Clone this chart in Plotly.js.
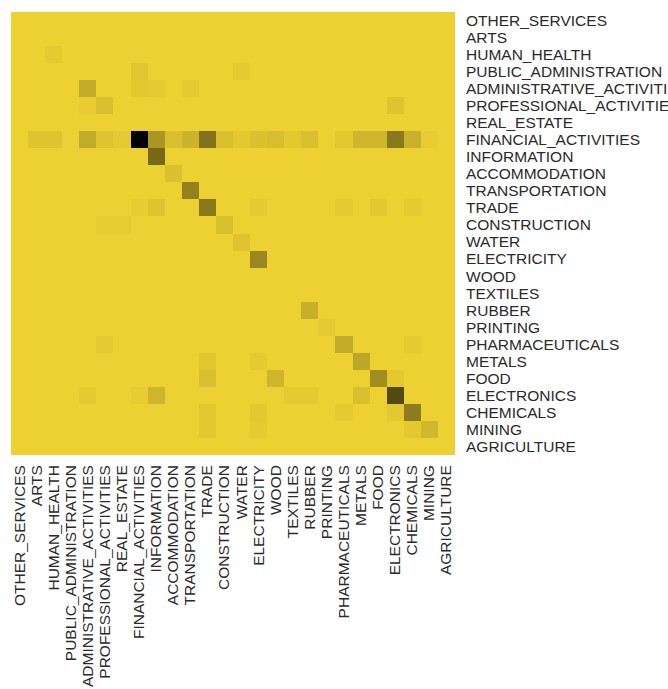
<!DOCTYPE html>
<html>
<head>
<meta charset="utf-8">
<script src="https://cdn.plot.ly/plotly-3.0.1.min.js"></script>
<style>html,body{margin:0;padding:0;background:#fff;}#chart{width:668px;height:689px;}</style>
</head>
<body>
<div id="chart"></div>
<script>
const sectors = ["OTHER_SERVICES","ARTS","HUMAN_HEALTH","PUBLIC_ADMINISTRATION","ADMINISTRATIVE_ACTIVITIES","PROFESSIONAL_ACTIVITIES","REAL_ESTATE","FINANCIAL_ACTIVITIES","INFORMATION","ACCOMMODATION","TRANSPORTATION","TRADE","CONSTRUCTION","WATER","ELECTRICITY","WOOD","TEXTILES","RUBBER","PRINTING","PHARMACEUTICALS","METALS","FOOD","ELECTRONICS","CHEMICALS","MINING","AGRICULTURE"];

// rows follow sectors (top to bottom), columns follow sectors (left to right)
const values = [
  [0,0,0,0,0,0,0,0,0,0,0,0,0,0,0,0,0,0,0,0,0,0,0,0,0,0], // OTHER_SERVICES
  [0,0,0,0,0,0,0,0,0,0,0,0,0,0,0,0,0,0,0,0,0,0,0,0,0,0], // ARTS
  [0,0,3,0,0,0,0,0,0,0,0,0,0,0,0,0,0,0,0,0,0,0,0,0,0,0], // HUMAN_HEALTH
  [0,0,0,0,0,0,0,5,0,0,0,0,0,3,0,0,0,0,0,0,0,0,0,0,0,0], // PUBLIC_ADMINISTRATION
  [0,0,0,0,18,0,0,4,3,0,3,0,0,0,0,0,0,0,0,0,0,0,0,0,0,0], // ADMINISTRATIVE_ACTIVITIES
  [0,0,0,0,2,8,0,0,0,0,0,0,0,0,0,0,0,0,0,0,0,0,6,0,0,0], // PROFESSIONAL_ACTIVITIES
  [0,0,0,0,0,0,0,0,0,0,0,0,0,0,0,0,0,0,0,0,0,0,0,0,0,0], // REAL_ESTATE
  [0,6,6,0,18,6,3,100,28,8,14,45,8,4,7,9,4,8,0,4,13,13,42,15,2,0], // FINANCIAL_ACTIVITIES
  [0,0,0,0,0,0,0,0,50,0,0,0,0,0,0,0,0,0,0,0,0,0,0,0,0,0], // INFORMATION
  [0,0,0,0,0,0,0,0,0,7,0,0,0,0,0,0,0,0,0,0,0,0,0,0,0,0], // ACCOMMODATION
  [0,0,0,0,0,0,0,0,0,0,38,0,0,0,0,0,0,0,0,0,0,0,0,0,0,0], // TRANSPORTATION
  [0,0,0,0,0,0,0,2,6,0,0,42,0,0,3,0,0,0,0,3,0,4,0,3,0,0], // TRADE
  [0,0,0,0,0,2,2,0,0,0,0,0,8,0,0,0,0,0,0,0,0,0,0,0,0,0], // CONSTRUCTION
  [0,0,0,0,0,0,0,0,0,0,0,0,0,6,0,0,0,0,0,0,0,0,0,0,0,0], // WATER
  [0,0,0,0,0,0,0,0,0,0,0,0,0,0,35,0,0,0,0,0,0,0,0,0,0,0], // ELECTRICITY
  [0,0,0,0,0,0,0,0,0,0,0,0,0,0,0,0,0,0,0,0,0,0,0,0,0,0], // WOOD
  [0,0,0,0,0,0,0,0,0,0,0,0,0,0,0,0,0,0,0,0,0,0,0,0,0,0], // TEXTILES
  [0,0,0,0,0,0,0,0,0,0,0,0,0,0,0,0,0,16,0,0,0,0,0,0,0,0], // RUBBER
  [0,0,0,0,0,0,0,0,0,0,0,0,0,0,0,0,0,0,3,0,0,0,0,0,0,0], // PRINTING
  [0,0,0,0,0,3,0,0,0,0,0,0,0,0,0,0,0,0,0,18,0,0,0,3,0,0], // PHARMACEUTICALS
  [0,0,0,0,0,0,0,0,0,0,0,5,0,0,3,0,0,0,0,0,20,0,0,0,0,0], // METALS
  [0,0,0,0,0,0,0,0,0,0,0,8,0,0,0,13,0,0,0,0,0,32,4,0,0,0], // FOOD
  [0,0,0,0,3,0,0,2,13,0,0,0,0,0,0,0,3,3,0,0,8,0,65,0,0,0], // ELECTRONICS
  [0,0,0,0,0,0,0,0,0,0,0,4,0,0,4,0,0,0,0,3,0,0,4,40,0,0], // CHEMICALS
  [0,0,0,0,0,0,0,0,0,0,0,4,0,0,3,0,0,0,0,0,0,0,0,4,12,0], // MINING
  [0,0,0,0,0,0,0,0,0,0,0,0,0,0,0,0,0,0,0,0,0,0,0,0,0,0]  // AGRICULTURE
];

const lowColor = "rgb(237,208,50)";
const highColor = "rgb(0,0,0)";
const labelFont = {family: "Liberation Sans, Arial, sans-serif", size: 15.5, color: "#2a2a2a"};

Plotly.newPlot("chart", [{
  type: "heatmap",
  x: sectors,
  y: sectors,
  z: values,
  zmin: 0,
  zmax: 100,
  colorscale: [[0, lowColor], [1, highColor]],
  showscale: false,
  hoverinfo: "x+y+z"
}], {
  width: 668,
  height: 689,
  margin: {l: 11, r: 213, t: 12, b: 234},
  paper_bgcolor: "#fff",
  plot_bgcolor: "#fff",
  xaxis: {
    type: "category",
    tickmode: "array",
    tickvals: sectors,
    ticktext: sectors,
    tickangle: -90,
    showgrid: false,
    zeroline: false,
    showline: false,
    ticks: "",
    ticklabelstandoff: 6,
    tickfont: labelFont
  },
  yaxis: {
    type: "category",
    side: "right",
    autorange: "reversed",
    tickmode: "array",
    tickvals: sectors,
    ticktext: sectors,
    showgrid: false,
    zeroline: false,
    showline: false,
    ticks: "",
    ticklabelstandoff: 10,
    tickfont: labelFont
  },
  showlegend: false
}, {displayModeBar: false, staticPlot: true});
</script>
</body>
</html>
